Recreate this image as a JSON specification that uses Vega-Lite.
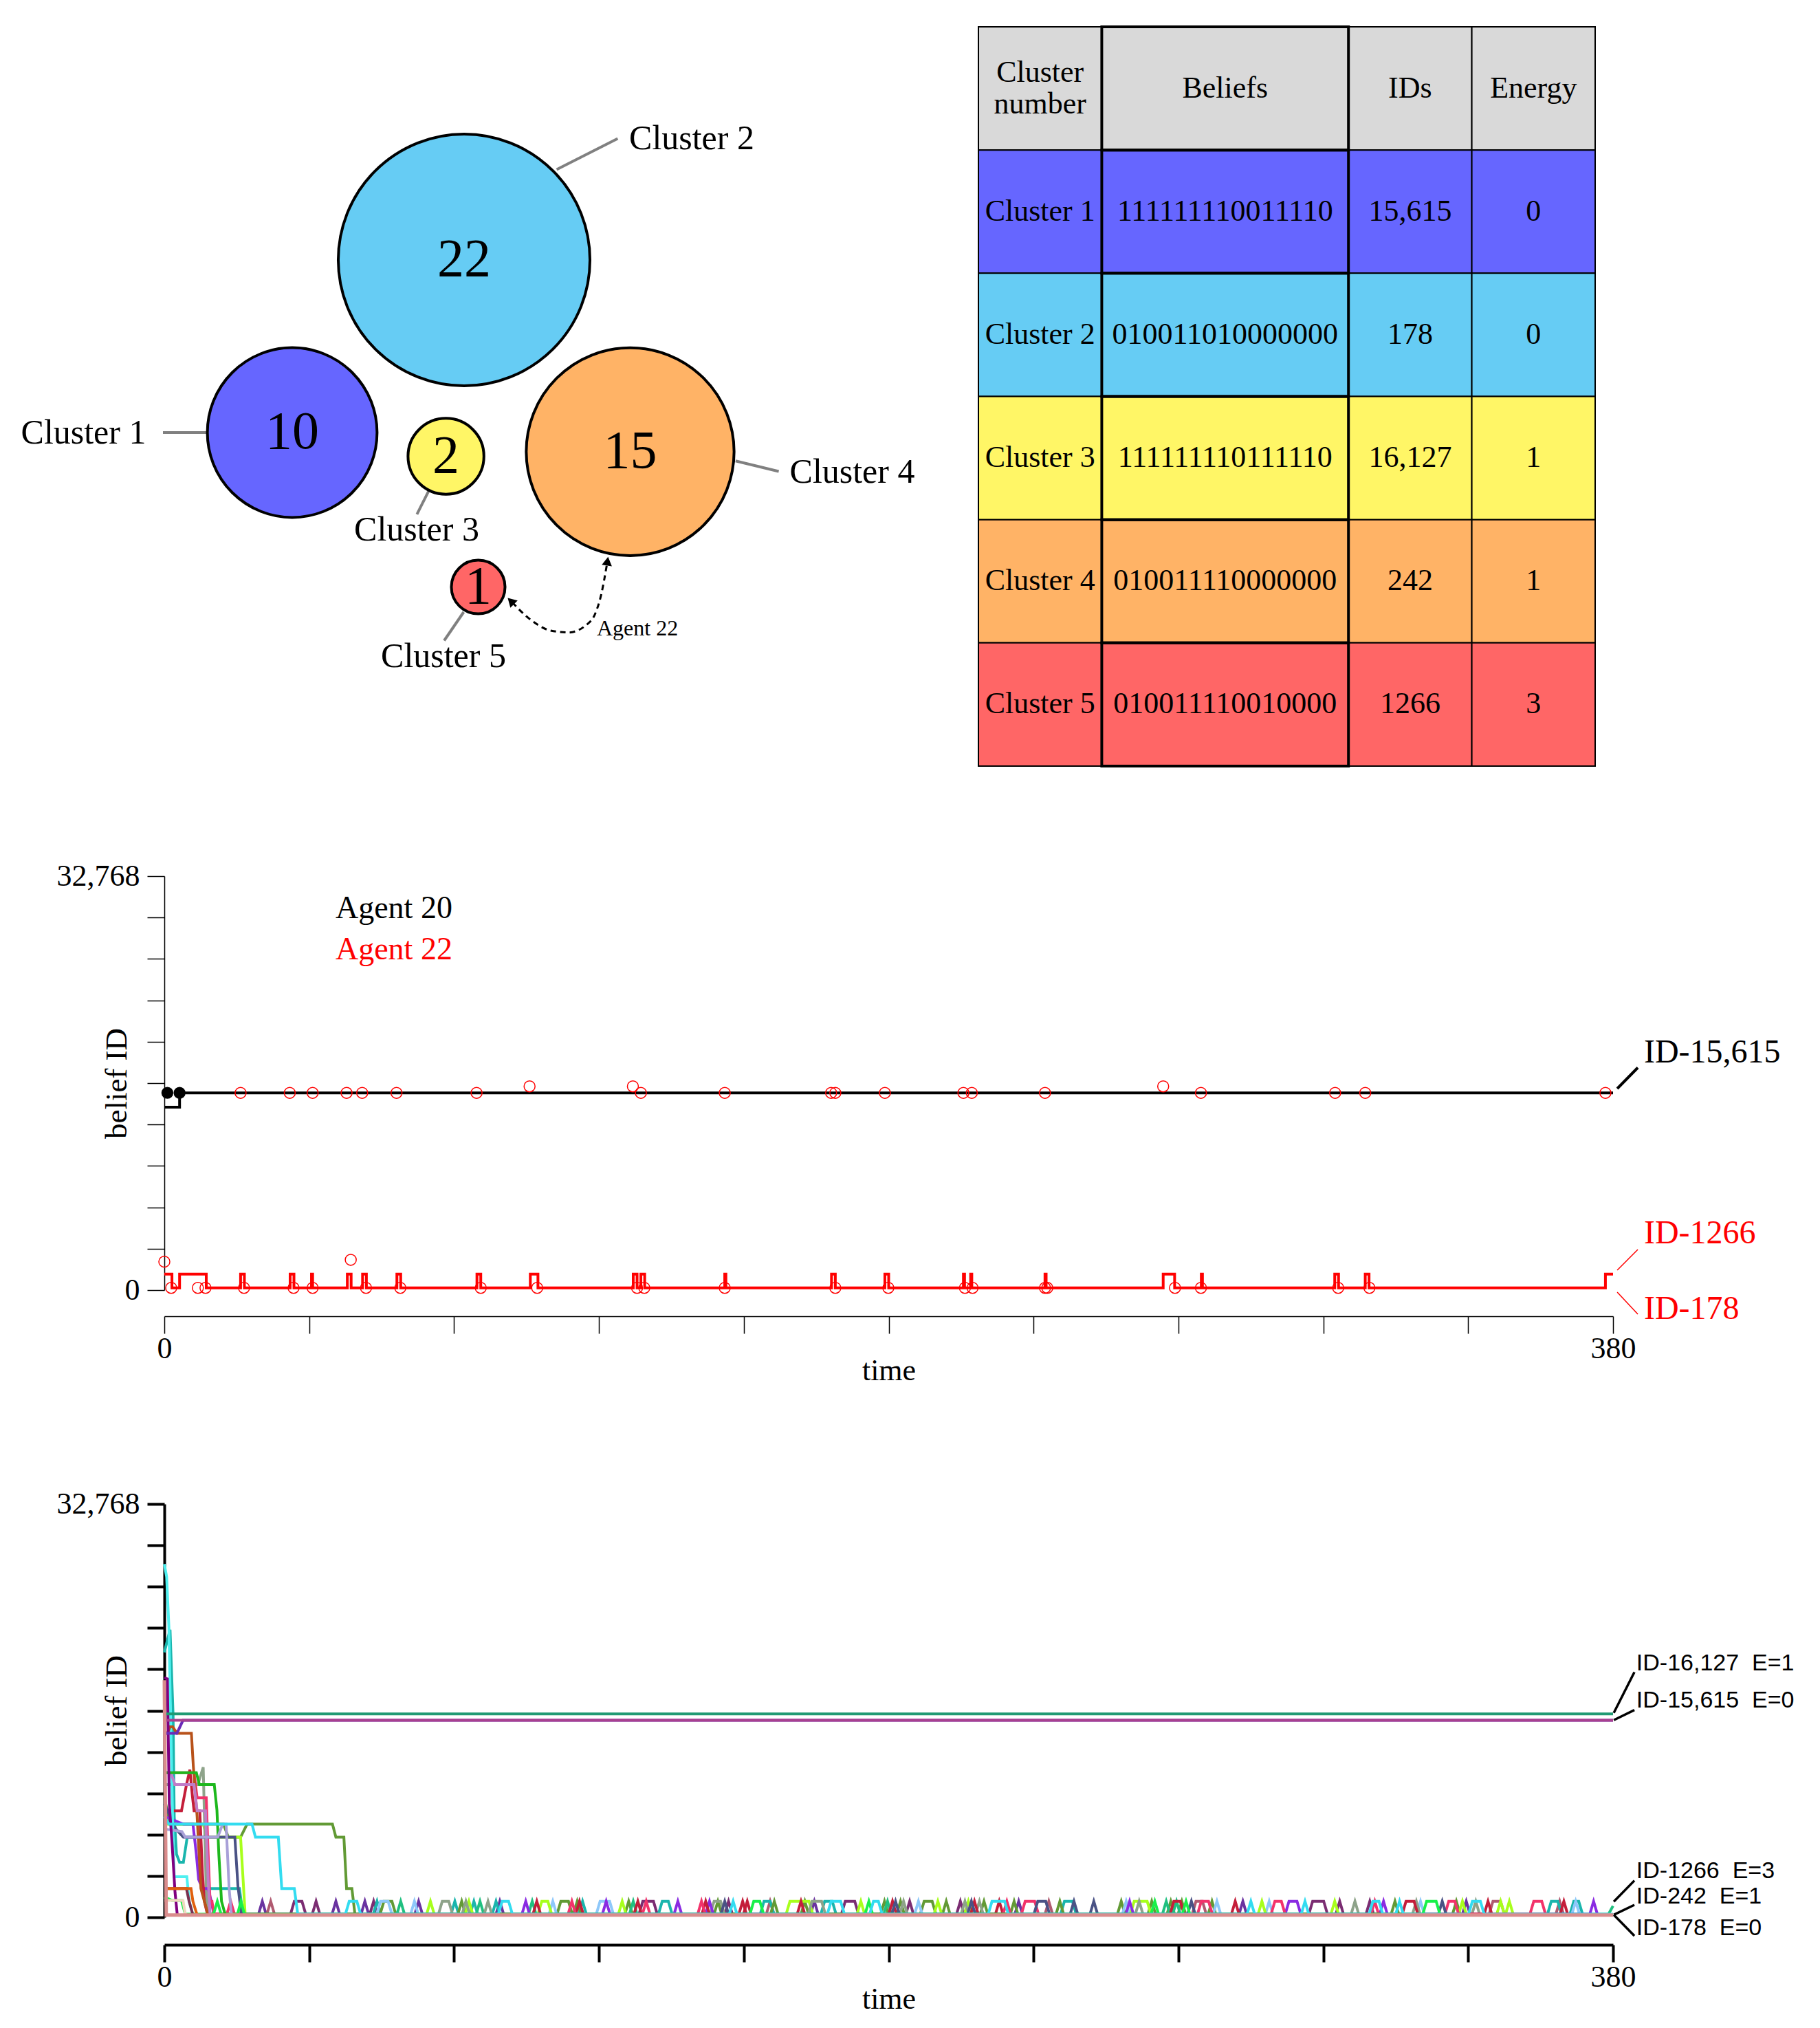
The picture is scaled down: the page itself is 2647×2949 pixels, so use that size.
{
"background":"white",
"padding":{"left":30,"top":37,"right":10,"bottom":10},
"bounds":"flush",
"spacing":160,
"resolve":{"scale":{"color":"independent","fill":"independent","size":"independent"}},
"config":{"view":{"stroke":null},"axis":{"grid":false,"domainColor":"black","tickColor":"black","labelColor":"black","titleColor":"black"}},
"datasets":{
"bub":[
{"cluster":"Cluster 1","n":10,"x":186,"y":590,"lx":-117.5,"ly":590.7,"ax":-2,"ay":590,"bx":61,"by":590},
{"cluster":"Cluster 2","n":22,"x":436,"y":339,"lx":767,"ly":162.5,"ax":570.6,"ay":207.5,"bx":659.4,"by":162.5},
{"cluster":"Cluster 3","n":2,"x":409.6,"y":624.5,"lx":367,"ly":731.6,"ax":384.6,"ay":674.7,"bx":367.4,"by":708.8},
{"cluster":"Cluster 4","n":15,"x":677.5,"y":617.8,"lx":1000.5,"ly":647.6,"ax":830.8,"ay":631.3,"bx":893.6,"by":646.5},
{"cluster":"Cluster 5","n":1,"x":456.5,"y":814.6,"lx":406,"ly":916,"ax":435.4,"ay":851,"bx":407,"by":892.5}],
"arr":[{"x":506,"y":837},{"x":532,"y":861.6},{"x":562,"y":878},{"x":588,"y":880.7},{"x":613.7,"y":869.8},{"x":626.6,"y":853.5},{"x":635.2,"y":826.4},{"x":643.9,"y":780.4}],
"tab":[
{"row":"header","c0":0,"c1":1,"xm":0.5,"txt":"Cluster\nnumber"},{"row":"header","c0":1,"c1":3,"xm":2,"txt":"Beliefs"},{"row":"header","c0":3,"c1":4,"xm":3.5,"txt":"IDs"},{"row":"header","c0":4,"c1":5,"xm":4.5,"txt":"Energy"},
{"row":"Cluster 1","c0":0,"c1":1,"xm":0.5,"txt":"Cluster 1"},{"row":"Cluster 1","c0":1,"c1":3,"xm":2,"txt":"111111110011110"},{"row":"Cluster 1","c0":3,"c1":4,"xm":3.5,"txt":"15,615"},{"row":"Cluster 1","c0":4,"c1":5,"xm":4.5,"txt":"0"},
{"row":"Cluster 2","c0":0,"c1":1,"xm":0.5,"txt":"Cluster 2"},{"row":"Cluster 2","c0":1,"c1":3,"xm":2,"txt":"010011010000000"},{"row":"Cluster 2","c0":3,"c1":4,"xm":3.5,"txt":"178"},{"row":"Cluster 2","c0":4,"c1":5,"xm":4.5,"txt":"0"},
{"row":"Cluster 3","c0":0,"c1":1,"xm":0.5,"txt":"Cluster 3"},{"row":"Cluster 3","c0":1,"c1":3,"xm":2,"txt":"111111110111110"},{"row":"Cluster 3","c0":3,"c1":4,"xm":3.5,"txt":"16,127"},{"row":"Cluster 3","c0":4,"c1":5,"xm":4.5,"txt":"1"},
{"row":"Cluster 4","c0":0,"c1":1,"xm":0.5,"txt":"Cluster 4"},{"row":"Cluster 4","c0":1,"c1":3,"xm":2,"txt":"010011110000000"},{"row":"Cluster 4","c0":3,"c1":4,"xm":3.5,"txt":"242"},{"row":"Cluster 4","c0":4,"c1":5,"xm":4.5,"txt":"1"},
{"row":"Cluster 5","c0":0,"c1":1,"xm":0.5,"txt":"Cluster 5"},{"row":"Cluster 5","c0":1,"c1":3,"xm":2,"txt":"010011110010000"},{"row":"Cluster 5","c0":3,"c1":4,"xm":3.5,"txt":"1266"},{"row":"Cluster 5","c0":4,"c1":5,"xm":4.5,"txt":"3"}],
"mid":[
{"agent":"Agent 20","t":0,"v":14480},{"agent":"Agent 20","t":4,"v":15615},{"agent":"Agent 20","t":380,"v":15615},
{"agent":"Agent 22","t":0,"v":1266},{"agent":"Agent 22","t":2,"v":178},{"agent":"Agent 22","t":4,"v":1266},{"agent":"Agent 22","t":11,"v":178},{"agent":"Agent 22","t":20,"v":1266},{"agent":"Agent 22","t":21,"v":178},{"agent":"Agent 22","t":33,"v":1266},{"agent":"Agent 22","t":34,"v":178},{"agent":"Agent 22","t":38.6,"v":1266},{"agent":"Agent 22","t":38.9,"v":178},{"agent":"Agent 22","t":48,"v":1266},{"agent":"Agent 22","t":49,"v":178},{"agent":"Agent 22","t":52,"v":1266},{"agent":"Agent 22","t":53,"v":178},{"agent":"Agent 22","t":61,"v":1266},{"agent":"Agent 22","t":62,"v":178},{"agent":"Agent 22","t":82,"v":1266},{"agent":"Agent 22","t":83,"v":178},{"agent":"Agent 22","t":96,"v":1266},{"agent":"Agent 22","t":98,"v":178},{"agent":"Agent 22","t":123,"v":1266},{"agent":"Agent 22","t":124,"v":178},{"agent":"Agent 22","t":125,"v":1266},{"agent":"Agent 22","t":126,"v":178},{"agent":"Agent 22","t":147,"v":1266},{"agent":"Agent 22","t":147.3,"v":178},{"agent":"Agent 22","t":175,"v":1266},{"agent":"Agent 22","t":176,"v":178},{"agent":"Agent 22","t":189,"v":1266},{"agent":"Agent 22","t":190,"v":178},{"agent":"Agent 22","t":209.6,"v":1266},{"agent":"Agent 22","t":209.9,"v":178},{"agent":"Agent 22","t":211.5,"v":1266},{"agent":"Agent 22","t":211.8,"v":178},{"agent":"Agent 22","t":231,"v":1266},{"agent":"Agent 22","t":231.3,"v":178},{"agent":"Agent 22","t":262,"v":1266},{"agent":"Agent 22","t":265,"v":178},{"agent":"Agent 22","t":272,"v":1266},{"agent":"Agent 22","t":272.3,"v":178},{"agent":"Agent 22","t":307,"v":1266},{"agent":"Agent 22","t":308,"v":178},{"agent":"Agent 22","t":315,"v":1266},{"agent":"Agent 22","t":316,"v":178},{"agent":"Agent 22","t":378,"v":1266},{"agent":"Agent 22","t":380,"v":1266}],
"midc":[
{"t":20,"v":15615},{"t":32.9,"v":15615},{"t":38.9,"v":15615},{"t":47.8,"v":15615},{"t":51.9,"v":15615},{"t":60.9,"v":15615},{"t":81.9,"v":15615},{"t":125,"v":15615},{"t":147,"v":15615},{"t":174.9,"v":15615},{"t":176,"v":15615},{"t":189,"v":15615},{"t":209.6,"v":15615},{"t":211.8,"v":15615},{"t":231,"v":15615},{"t":271.9,"v":15615},{"t":307.1,"v":15615},{"t":315,"v":15615},{"t":378,"v":15615},
{"t":95.8,"v":16127},{"t":122.9,"v":16127},{"t":262,"v":16127},
{"t":1.8,"v":178},{"t":8.8,"v":178},{"t":10.8,"v":178},{"t":20.9,"v":178},{"t":33.9,"v":178},{"t":38.9,"v":178},{"t":52.9,"v":178},{"t":61.9,"v":178},{"t":83,"v":178},{"t":97.8,"v":178},{"t":124,"v":178},{"t":125.9,"v":178},{"t":147,"v":178},{"t":176,"v":178},{"t":189.9,"v":178},{"t":210,"v":178},{"t":212,"v":178},{"t":231,"v":178},{"t":231.6,"v":178},{"t":265.1,"v":178},{"t":271.9,"v":178},{"t":307.9,"v":178},{"t":316.1,"v":178},
{"t":0,"v":2250},{"t":48.9,"v":2400}],
"midd":[{"t":0.8,"v":15615},{"t":4,"v":15615}],
"midleg":[{"agent":"Agent 20","t":44.9,"v":30210},{"agent":"Agent 22","t":44.9,"v":26971}],
"midlab":[{"agent":"Agent 20","t":388.1,"v":18779,"txt":"ID-15,615"},{"agent":"Agent 22","t":388.1,"v":4463,"txt":"ID-1266"},{"agent":"Agent 22","t":388.1,"v":-1497,"txt":"ID-178"}],
"midlead":[{"agent":"Agent 20","t":381.1,"v":15948,"t2":386.5,"v2":17609},{"agent":"Agent 22","t":381.1,"v":1578,"t2":386.5,"v2":3211},{"agent":"Agent 22","t":381.1,"v":-163,"t2":386.5,"v2":-1905}],
"botlab":[{"t":386.1,"v":20118,"txt":"ID-16,127\u00a0 E=1"},{"t":386.1,"v":17175,"txt":"ID-15,615\u00a0 E=0"},{"t":386.1,"v":3680,"txt":"ID-1266\u00a0 E=3"},{"t":386.1,"v":1640,"txt":"ID-242\u00a0 E=1"},{"t":386.1,"v":-880,"txt":"ID-178\u00a0 E=0"}],
"botlead":[{"t":380.2,"v":16204,"t2":385.6,"v2":19437},{"t":380.2,"v":15637,"t2":385.6,"v2":16433},{"t":380.2,"v":1243,"t2":385.6,"v2":2911},{"t":380.2,"v":196,"t2":385.6,"v2":981},{"t":380.2,"v":196,"t2":385.6,"v2":-1472}],
"bot":[
{"a":"a01","t":24.7,"v":242},{"a":"a01","t":25.7,"v":1266},{"a":"a01","t":26.7,"v":242},{"a":"a01","t":44,"v":242},{"a":"a01","t":45,"v":1266},{"a":"a01","t":46,"v":242},{"a":"a01","t":51.6,"v":242},{"a":"a01","t":52.6,"v":1266},{"a":"a01","t":53.6,"v":242},{"a":"a01","t":65.7,"v":242},{"a":"a01","t":66.7,"v":1266},{"a":"a01","t":67.7,"v":242},{"a":"a01","t":87,"v":242},{"a":"a01","t":88,"v":1266},{"a":"a01","t":89,"v":242},{"a":"a01","t":169.5,"v":242},{"a":"a01","t":170.5,"v":1266},{"a":"a01","t":171.5,"v":242},{"a":"a01","t":223.1,"v":242},{"a":"a01","t":224.1,"v":1266},{"a":"a01","t":225.1,"v":242},{"a":"a01","t":281.9,"v":242},{"a":"a01","t":282.9,"v":1266},{"a":"a01","t":283.9,"v":242},{"a":"a01","t":340.5,"v":242},{"a":"a01","t":341.5,"v":1266},{"a":"a01","t":342.5,"v":242},
{"a":"a02","t":26.9,"v":242},{"a":"a02","t":27.9,"v":1266},{"a":"a02","t":28.9,"v":242},{"a":"a02","t":157.9,"v":242},{"a":"a02","t":158.9,"v":1266},{"a":"a02","t":159.9,"v":242},{"a":"a02","t":231,"v":242},{"a":"a02","t":232,"v":1266},{"a":"a02","t":233,"v":242},{"a":"a02","t":269.6,"v":242},{"a":"a02","t":270.6,"v":1266},{"a":"a02","t":272.3,"v":1266},{"a":"a02","t":273.3,"v":242},{"a":"a02","t":347.5,"v":242},{"a":"a02","t":348.5,"v":1266},{"a":"a02","t":350.5,"v":1266},{"a":"a02","t":351.5,"v":242},{"a":"a02","t":365,"v":242},{"a":"a02","t":366,"v":1266},{"a":"a02","t":367,"v":242},
{"a":"a03","t":33.1,"v":242},{"a":"a03","t":34.1,"v":1266},{"a":"a03","t":36.1,"v":1266},{"a":"a03","t":37.1,"v":242},{"a":"a03","t":38.8,"v":242},{"a":"a03","t":39.8,"v":1266},{"a":"a03","t":40.8,"v":242},{"a":"a03","t":53.9,"v":242},{"a":"a03","t":54.9,"v":1266},{"a":"a03","t":55.9,"v":242},{"a":"a03","t":124.5,"v":242},{"a":"a03","t":125.5,"v":1266},{"a":"a03","t":128.3,"v":1266},{"a":"a03","t":129.3,"v":242},{"a":"a03","t":147,"v":242},{"a":"a03","t":148,"v":1266},{"a":"a03","t":149,"v":242},{"a":"a03","t":177.6,"v":242},{"a":"a03","t":178.6,"v":1266},{"a":"a03","t":181.1,"v":1266},{"a":"a03","t":182.1,"v":242},{"a":"a03","t":194.5,"v":242},{"a":"a03","t":195.5,"v":1266},{"a":"a03","t":196.5,"v":242},{"a":"a03","t":207.8,"v":242},{"a":"a03","t":208.8,"v":1266},{"a":"a03","t":209.8,"v":242},{"a":"a03","t":300.2,"v":242},{"a":"a03","t":301.2,"v":1266},{"a":"a03","t":304.1,"v":1266},{"a":"a03","t":305.1,"v":242},{"a":"a03","t":307.3,"v":242},{"a":"a03","t":308.3,"v":1266},{"a":"a03","t":309.3,"v":242},{"a":"a03","t":315.2,"v":242},{"a":"a03","t":316.2,"v":1266},{"a":"a03","t":317.2,"v":242},
{"a":"a04","t":0,"v":21000},{"a":"a04","t":1.5,"v":22800},{"a":"a04","t":2.3,"v":16000},{"a":"a04","t":2.6,"v":8000},{"a":"a04","t":3.2,"v":5000},{"a":"a04","t":4,"v":4363},{"a":"a04","t":5,"v":4363},{"a":"a04","t":6,"v":6346},{"a":"a04","t":9.3,"v":6346},{"a":"a04","t":10,"v":2278},{"a":"a04","t":19.7,"v":2278},{"a":"a04","t":20.6,"v":242},{"a":"a04","t":54.8,"v":242},{"a":"a04","t":55.8,"v":1266},{"a":"a04","t":56.8,"v":242},{"a":"a04","t":75.2,"v":242},{"a":"a04","t":76.2,"v":1266},{"a":"a04","t":77.2,"v":242},{"a":"a04","t":80.2,"v":242},{"a":"a04","t":81.2,"v":1266},{"a":"a04","t":82.2,"v":242},{"a":"a04","t":86,"v":242},{"a":"a04","t":87,"v":1266},{"a":"a04","t":88,"v":242},{"a":"a04","t":108.7,"v":242},{"a":"a04","t":109.7,"v":1266},{"a":"a04","t":110.7,"v":242},{"a":"a04","t":129.6,"v":242},{"a":"a04","t":130.6,"v":1266},{"a":"a04","t":132.2,"v":1266},{"a":"a04","t":133.2,"v":242},{"a":"a04","t":156.3,"v":242},{"a":"a04","t":157.3,"v":1266},{"a":"a04","t":158.9,"v":1266},{"a":"a04","t":159.9,"v":242},{"a":"a04","t":172.2,"v":242},{"a":"a04","t":173.2,"v":1266},{"a":"a04","t":175.2,"v":1266},{"a":"a04","t":176.2,"v":242},{"a":"a04","t":235.1,"v":242},{"a":"a04","t":236.1,"v":1266},{"a":"a04","t":238.2,"v":1266},{"a":"a04","t":239.2,"v":242},{"a":"a04","t":362.8,"v":242},{"a":"a04","t":363.8,"v":1266},{"a":"a04","t":365.5,"v":1266},{"a":"a04","t":366.5,"v":242},{"a":"a04","t":368.7,"v":242},{"a":"a04","t":369.7,"v":1266},{"a":"a04","t":371,"v":1266},{"a":"a04","t":372,"v":242},
{"a":"a05","t":0,"v":9500},{"a":"a05","t":1.5,"v":7388},{"a":"a05","t":15.5,"v":7388},{"a":"a05","t":16.8,"v":6346},{"a":"a05","t":20,"v":6346},{"a":"a05","t":21.7,"v":7388},{"a":"a05","t":44.1,"v":7388},{"a":"a05","t":45,"v":6346},{"a":"a05","t":47.1,"v":6346},{"a":"a05","t":47.8,"v":2278},{"a":"a05","t":49.2,"v":2278},{"a":"a05","t":50,"v":242},{"a":"a05","t":56.6,"v":242},{"a":"a05","t":57.6,"v":1266},{"a":"a05","t":59.7,"v":1266},{"a":"a05","t":60.7,"v":242},{"a":"a05","t":77,"v":242},{"a":"a05","t":78,"v":1266},{"a":"a05","t":79,"v":242},{"a":"a05","t":103,"v":242},{"a":"a05","t":104,"v":1266},{"a":"a05","t":106,"v":1266},{"a":"a05","t":107,"v":242},{"a":"a05","t":107.3,"v":242},{"a":"a05","t":108.3,"v":1266},{"a":"a05","t":109.3,"v":242},{"a":"a05","t":120.8,"v":242},{"a":"a05","t":121.8,"v":1266},{"a":"a05","t":122.8,"v":242},{"a":"a05","t":144.2,"v":242},{"a":"a05","t":145.2,"v":1266},{"a":"a05","t":146.2,"v":242},{"a":"a05","t":159,"v":242},{"a":"a05","t":160,"v":1266},{"a":"a05","t":161,"v":242},{"a":"a05","t":167,"v":242},{"a":"a05","t":168,"v":1266},{"a":"a05","t":169,"v":242},{"a":"a05","t":187.9,"v":242},{"a":"a05","t":188.9,"v":1266},{"a":"a05","t":189.9,"v":242},{"a":"a05","t":192.1,"v":242},{"a":"a05","t":193.1,"v":1266},{"a":"a05","t":194.1,"v":242},{"a":"a05","t":198.3,"v":242},{"a":"a05","t":199.3,"v":1266},{"a":"a05","t":201.4,"v":1266},{"a":"a05","t":202.4,"v":242},{"a":"a05","t":204.1,"v":242},{"a":"a05","t":205.1,"v":1266},{"a":"a05","t":206.1,"v":242},{"a":"a05","t":214,"v":242},{"a":"a05","t":215,"v":1266},{"a":"a05","t":216,"v":242},{"a":"a05","t":221.9,"v":242},{"a":"a05","t":222.9,"v":1266},{"a":"a05","t":223.9,"v":242},{"a":"a05","t":233.9,"v":242},{"a":"a05","t":234.9,"v":1266},{"a":"a05","t":235.9,"v":242},{"a":"a05","t":250,"v":242},{"a":"a05","t":251,"v":1266},{"a":"a05","t":252,"v":242},{"a":"a05","t":258,"v":242},{"a":"a05","t":259,"v":1266},{"a":"a05","t":260,"v":242},{"a":"a05","t":263,"v":242},{"a":"a05","t":264,"v":1266},{"a":"a05","t":265,"v":242},{"a":"a05","t":265.9,"v":242},{"a":"a05","t":266.9,"v":1266},{"a":"a05","t":267.9,"v":242},{"a":"a05","t":273.8,"v":242},{"a":"a05","t":274.8,"v":1266},{"a":"a05","t":275.8,"v":242},{"a":"a05","t":321.8,"v":242},{"a":"a05","t":322.8,"v":1266},{"a":"a05","t":323.8,"v":242},{"a":"a05","t":337.9,"v":242},{"a":"a05","t":338.9,"v":1266},{"a":"a05","t":339.9,"v":242},
{"a":"a06","t":55.7,"v":242},{"a":"a06","t":56.7,"v":1266},{"a":"a06","t":58.7,"v":1266},{"a":"a06","t":59.7,"v":242},{"a":"a06","t":64.6,"v":242},{"a":"a06","t":65.6,"v":1266},{"a":"a06","t":66.6,"v":242},{"a":"a06","t":100.9,"v":242},{"a":"a06","t":101.9,"v":1266},{"a":"a06","t":102.9,"v":242},{"a":"a06","t":113.3,"v":242},{"a":"a06","t":114.3,"v":1266},{"a":"a06","t":116.8,"v":1266},{"a":"a06","t":117.8,"v":242},{"a":"a06","t":196.8,"v":242},{"a":"a06","t":197.8,"v":1266},{"a":"a06","t":198.8,"v":242},{"a":"a06","t":251.3,"v":242},{"a":"a06","t":252.3,"v":1266},{"a":"a06","t":253.3,"v":242},{"a":"a06","t":275.1,"v":242},{"a":"a06","t":276.1,"v":1266},{"a":"a06","t":277.1,"v":242},{"a":"a06","t":288.8,"v":242},{"a":"a06","t":289.8,"v":1266},{"a":"a06","t":290.8,"v":242},{"a":"a06","t":328.5,"v":242},{"a":"a06","t":329.5,"v":1266},{"a":"a06","t":330.5,"v":242},{"a":"a06","t":369.2,"v":242},{"a":"a06","t":370.2,"v":1266},{"a":"a06","t":371.2,"v":242},
{"a":"a07","t":61,"v":242},{"a":"a07","t":62,"v":1266},{"a":"a07","t":63,"v":242},{"a":"a07","t":81.8,"v":242},{"a":"a07","t":82.8,"v":1266},{"a":"a07","t":83.8,"v":242},{"a":"a07","t":95.5,"v":242},{"a":"a07","t":96.5,"v":1266},{"a":"a07","t":97.5,"v":242},{"a":"a07","t":122,"v":242},{"a":"a07","t":123,"v":1266},{"a":"a07","t":124,"v":242},{"a":"a07","t":188.7,"v":242},{"a":"a07","t":189.7,"v":1266},{"a":"a07","t":190.7,"v":242},{"a":"a07","t":261.8,"v":242},{"a":"a07","t":262.8,"v":1266},{"a":"a07","t":263.8,"v":242},{"a":"a07","t":264.5,"v":242},{"a":"a07","t":265.5,"v":1266},{"a":"a07","t":266.5,"v":242},{"a":"a07","t":378.8,"v":242},{"a":"a07","t":380,"v":900},
{"a":"a08","t":0,"v":7388},{"a":"a08","t":10.2,"v":7388},{"a":"a08","t":11.2,"v":6346},{"a":"a08","t":20,"v":6346},{"a":"a08","t":21.2,"v":242},{"a":"a08","t":68.8,"v":242},{"a":"a08","t":69.8,"v":1266},{"a":"a08","t":70.8,"v":242},{"a":"a08","t":78.9,"v":242},{"a":"a08","t":79.9,"v":1266},{"a":"a08","t":80.9,"v":242},{"a":"a08","t":98,"v":242},{"a":"a08","t":99,"v":1266},{"a":"a08","t":100.6,"v":1266},{"a":"a08","t":101.6,"v":242},{"a":"a08","t":119.1,"v":242},{"a":"a08","t":120.1,"v":1266},{"a":"a08","t":121.1,"v":242},{"a":"a08","t":163.1,"v":242},{"a":"a08","t":164.1,"v":1266},{"a":"a08","t":169.1,"v":1266},{"a":"a08","t":170.1,"v":242},{"a":"a08","t":181.7,"v":242},{"a":"a08","t":182.7,"v":1266},{"a":"a08","t":183.7,"v":242},{"a":"a08","t":201.9,"v":242},{"a":"a08","t":202.9,"v":1266},{"a":"a08","t":203.9,"v":242},{"a":"a08","t":209.9,"v":242},{"a":"a08","t":210.9,"v":1266},{"a":"a08","t":211.9,"v":242},{"a":"a08","t":253.4,"v":242},{"a":"a08","t":254.4,"v":1266},{"a":"a08","t":257.8,"v":1266},{"a":"a08","t":258.8,"v":242},{"a":"a08","t":286.9,"v":242},{"a":"a08","t":287.9,"v":1266},{"a":"a08","t":288.9,"v":242},{"a":"a08","t":306,"v":242},{"a":"a08","t":307,"v":1266},{"a":"a08","t":308,"v":242},{"a":"a08","t":339.5,"v":242},{"a":"a08","t":340.5,"v":1266},{"a":"a08","t":341.5,"v":242},{"a":"a08","t":349.5,"v":242},{"a":"a08","t":350.5,"v":1266},{"a":"a08","t":351.5,"v":242},{"a":"a08","t":351.8,"v":242},{"a":"a08","t":352.8,"v":1266},{"a":"a08","t":353.8,"v":242},
{"a":"a09","t":0,"v":10522},{"a":"a09","t":8.8,"v":10522},{"a":"a09","t":10.2,"v":11900},{"a":"a09","t":11,"v":2000},{"a":"a09","t":11.5,"v":242},{"a":"a09","t":71.9,"v":242},{"a":"a09","t":72.9,"v":1266},{"a":"a09","t":74.6,"v":1266},{"a":"a09","t":75.6,"v":242},{"a":"a09","t":78.1,"v":242},{"a":"a09","t":79.1,"v":1266},{"a":"a09","t":80.1,"v":242},{"a":"a09","t":83.9,"v":242},{"a":"a09","t":84.9,"v":1266},{"a":"a09","t":85.9,"v":242},{"a":"a09","t":143.2,"v":242},{"a":"a09","t":144.2,"v":1266},{"a":"a09","t":145.9,"v":1266},{"a":"a09","t":146.9,"v":242},{"a":"a09","t":168.9,"v":242},{"a":"a09","t":169.9,"v":1266},{"a":"a09","t":172.4,"v":1266},{"a":"a09","t":173.4,"v":242},{"a":"a09","t":192.9,"v":242},{"a":"a09","t":193.9,"v":1266},{"a":"a09","t":194.9,"v":242},{"a":"a09","t":209,"v":242},{"a":"a09","t":210,"v":1266},{"a":"a09","t":211,"v":242},{"a":"a09","t":212.8,"v":242},{"a":"a09","t":213.8,"v":1266},{"a":"a09","t":214.8,"v":242},{"a":"a09","t":254.7,"v":242},{"a":"a09","t":255.7,"v":1266},{"a":"a09","t":256.7,"v":242},{"a":"a09","t":311.3,"v":242},{"a":"a09","t":312.3,"v":1266},{"a":"a09","t":313.3,"v":242},{"a":"a09","t":327.4,"v":242},{"a":"a09","t":328.4,"v":1266},{"a":"a09","t":329.4,"v":242},{"a":"a09","t":343,"v":242},{"a":"a09","t":344,"v":1266},{"a":"a09","t":345,"v":242},
{"a":"a10","t":0,"v":8000},{"a":"a10","t":5,"v":7388},{"a":"a10","t":7.5,"v":7388},{"a":"a10","t":8.4,"v":5000},{"a":"a10","t":9,"v":3000},{"a":"a10","t":10,"v":2278},{"a":"a10","t":11.5,"v":2278},{"a":"a10","t":12.3,"v":1266},{"a":"a10","t":13,"v":242},{"a":"a10","t":93.8,"v":242},{"a":"a10","t":94.8,"v":1266},{"a":"a10","t":95.8,"v":242},{"a":"a10","t":114.9,"v":242},{"a":"a10","t":115.9,"v":1266},{"a":"a10","t":116.9,"v":242},{"a":"a10","t":133.7,"v":242},{"a":"a10","t":134.7,"v":1266},{"a":"a10","t":135.7,"v":242},{"a":"a10","t":142,"v":242},{"a":"a10","t":143,"v":1266},{"a":"a10","t":144,"v":242},{"a":"a10","t":252.2,"v":242},{"a":"a10","t":253.2,"v":1266},{"a":"a10","t":254.2,"v":242},{"a":"a10","t":294,"v":242},{"a":"a10","t":295,"v":1266},{"a":"a10","t":297.1,"v":1266},{"a":"a10","t":298.1,"v":242},{"a":"a10","t":318.8,"v":242},{"a":"a10","t":319.8,"v":1266},{"a":"a10","t":320.8,"v":242},{"a":"a10","t":373.9,"v":242},{"a":"a10","t":374.9,"v":1266},{"a":"a10","t":375.9,"v":242},
{"a":"a11","t":0,"v":8433},{"a":"a11","t":4.5,"v":8433},{"a":"a11","t":5.8,"v":10500},{"a":"a11","t":6.7,"v":11700},{"a":"a11","t":7.4,"v":9500},{"a":"a11","t":7.8,"v":8433},{"a":"a11","t":9.3,"v":8433},{"a":"a11","t":10,"v":3500},{"a":"a11","t":10.5,"v":1266},{"a":"a11","t":11.3,"v":242},{"a":"a11","t":96.7,"v":242},{"a":"a11","t":97.7,"v":1266},{"a":"a11","t":98.7,"v":242},{"a":"a11","t":107.9,"v":242},{"a":"a11","t":108.9,"v":1266},{"a":"a11","t":109.9,"v":242},{"a":"a11","t":123.2,"v":242},{"a":"a11","t":124.2,"v":1266},{"a":"a11","t":125.2,"v":242},{"a":"a11","t":141,"v":242},{"a":"a11","t":142,"v":1266},{"a":"a11","t":143,"v":242},{"a":"a11","t":150.7,"v":242},{"a":"a11","t":151.7,"v":1266},{"a":"a11","t":152.7,"v":242},{"a":"a11","t":166,"v":242},{"a":"a11","t":167,"v":1266},{"a":"a11","t":168,"v":242},{"a":"a11","t":190,"v":242},{"a":"a11","t":191,"v":1266},{"a":"a11","t":192,"v":242},{"a":"a11","t":211.5,"v":242},{"a":"a11","t":212.5,"v":1266},{"a":"a11","t":213.5,"v":242},{"a":"a11","t":218,"v":242},{"a":"a11","t":219,"v":1266},{"a":"a11","t":220,"v":242},{"a":"a11","t":263.8,"v":242},{"a":"a11","t":264.8,"v":1266},{"a":"a11","t":266.5,"v":1266},{"a":"a11","t":267.5,"v":242},{"a":"a11","t":279.9,"v":242},{"a":"a11","t":280.9,"v":1266},{"a":"a11","t":281.9,"v":242},{"a":"a11","t":324.7,"v":242},{"a":"a11","t":325.7,"v":1266},{"a":"a11","t":327.8,"v":1266},{"a":"a11","t":328.8,"v":242},{"a":"a11","t":346.2,"v":242},{"a":"a11","t":347.2,"v":1266},{"a":"a11","t":348.2,"v":242},{"a":"a11","t":366.1,"v":242},{"a":"a11","t":367.1,"v":1266},{"a":"a11","t":368.1,"v":242},
{"a":"a12","t":151.9,"v":242},{"a":"a12","t":152.9,"v":1266},{"a":"a12","t":153.9,"v":242},
{"a":"a13","t":0,"v":11459},{"a":"a13","t":7.8,"v":11459},{"a":"a13","t":8.6,"v":9476},{"a":"a13","t":11,"v":9476},{"a":"a13","t":11.5,"v":5000},{"a":"a13","t":12,"v":1266},{"a":"a13","t":12.5,"v":1266},{"a":"a13","t":13,"v":242},{"a":"a13","t":16.4,"v":242},{"a":"a13","t":17.4,"v":1266},{"a":"a13","t":18.4,"v":242},{"a":"a13","t":105.9,"v":242},{"a":"a13","t":106.9,"v":1266},{"a":"a13","t":107.9,"v":242},{"a":"a13","t":125.4,"v":242},{"a":"a13","t":126.4,"v":1266},{"a":"a13","t":127.4,"v":242},{"a":"a13","t":139.9,"v":242},{"a":"a13","t":140.9,"v":1266},{"a":"a13","t":141.9,"v":242},{"a":"a13","t":220,"v":242},{"a":"a13","t":221,"v":1266},{"a":"a13","t":222,"v":242},{"a":"a13","t":224.8,"v":242},{"a":"a13","t":225.8,"v":1266},{"a":"a13","t":228.3,"v":1266},{"a":"a13","t":229.3,"v":242},{"a":"a13","t":271,"v":242},{"a":"a13","t":272,"v":1266},{"a":"a13","t":273.9,"v":1266},{"a":"a13","t":274.9,"v":242},{"a":"a13","t":290.3,"v":242},{"a":"a13","t":291.3,"v":1266},{"a":"a13","t":293,"v":1266},{"a":"a13","t":294,"v":242},{"a":"a13","t":316.5,"v":242},{"a":"a13","t":317.5,"v":1266},{"a":"a13","t":318.5,"v":242},{"a":"a13","t":335.9,"v":242},{"a":"a13","t":336.9,"v":1266},{"a":"a13","t":338.5,"v":1266},{"a":"a13","t":339.5,"v":242},{"a":"a13","t":358.2,"v":242},{"a":"a13","t":359.2,"v":1266},{"a":"a13","t":361.3,"v":1266},{"a":"a13","t":362.3,"v":242},
{"a":"a14","t":0,"v":9000},{"a":"a14","t":3,"v":7000},{"a":"a14","t":5,"v":6346},{"a":"a14","t":18.5,"v":6346},{"a":"a14","t":19.3,"v":2500},{"a":"a14","t":20.2,"v":242},{"a":"a14","t":146,"v":242},{"a":"a14","t":147,"v":1266},{"a":"a14","t":148,"v":242},{"a":"a14","t":190.8,"v":242},{"a":"a14","t":191.8,"v":1266},{"a":"a14","t":192.8,"v":242},{"a":"a14","t":210.7,"v":242},{"a":"a14","t":211.7,"v":1266},{"a":"a14","t":212.7,"v":242},{"a":"a14","t":228.1,"v":242},{"a":"a14","t":229.1,"v":1266},{"a":"a14","t":231.2,"v":1266},{"a":"a14","t":232.2,"v":242},{"a":"a14","t":237.6,"v":242},{"a":"a14","t":238.6,"v":1266},{"a":"a14","t":239.6,"v":242},{"a":"a14","t":242.8,"v":242},{"a":"a14","t":243.8,"v":1266},{"a":"a14","t":244.8,"v":242},{"a":"a14","t":268.4,"v":242},{"a":"a14","t":269.4,"v":1266},{"a":"a14","t":270.4,"v":242},{"a":"a14","t":334.2,"v":242},{"a":"a14","t":335.2,"v":1266},{"a":"a14","t":336.2,"v":242},
{"a":"a15","t":0,"v":1600},{"a":"a15","t":2,"v":1340},{"a":"a15","t":4.5,"v":1340},{"a":"a15","t":5.5,"v":242},{"a":"a15","t":12.9,"v":242},{"a":"a15","t":13.9,"v":1266},{"a":"a15","t":14.9,"v":242},{"a":"a15","t":19.2,"v":242},{"a":"a15","t":20.1,"v":1266},{"a":"a15","t":21,"v":242},{"a":"a15","t":153.6,"v":242},{"a":"a15","t":154.6,"v":1266},{"a":"a15","t":156.2,"v":1266},{"a":"a15","t":157.2,"v":242},{"a":"a15","t":183.8,"v":242},{"a":"a15","t":184.8,"v":1266},{"a":"a15","t":185.8,"v":242},{"a":"a15","t":258.8,"v":242},{"a":"a15","t":259.8,"v":1266},{"a":"a15","t":260.8,"v":242},{"a":"a15","t":267,"v":242},{"a":"a15","t":268,"v":1266},{"a":"a15","t":269,"v":242},{"a":"a15","t":330.1,"v":242},{"a":"a15","t":331.1,"v":1266},{"a":"a15","t":333.6,"v":1266},{"a":"a15","t":334.6,"v":242},
{"a":"b01","t":0,"v":28000},{"a":"b01","t":0.6,"v":27000},{"a":"b01","t":1.2,"v":23000},{"a":"b01","t":1.7,"v":15000},{"a":"b01","t":2.3,"v":6000},{"a":"b01","t":2.6,"v":3217},{"a":"b01","t":5.9,"v":3217},{"a":"b01","t":6.5,"v":1300},{"a":"b01","t":7.5,"v":178},
{"a":"b03","t":0,"v":14589},{"a":"b03","t":0.8,"v":14589},{"a":"b03","t":1.5,"v":15100},{"a":"b03","t":2.2,"v":15100},{"a":"b03","t":3.3,"v":14589},{"a":"b03","t":7.1,"v":14589},{"a":"b03","t":7.6,"v":12000},{"a":"b03","t":8.1,"v":10000},{"a":"b03","t":8.6,"v":8000},{"a":"b03","t":9.6,"v":2278},{"a":"b03","t":10.5,"v":1266},{"a":"b03","t":11.5,"v":178},
{"a":"b06","t":0,"v":11459},{"a":"b06","t":1.7,"v":11459},{"a":"b06","t":2.8,"v":10522},{"a":"b06","t":7.8,"v":10522},{"a":"b06","t":8.6,"v":8433},{"a":"b06","t":10.8,"v":8433},{"a":"b06","t":11.5,"v":3000},{"a":"b06","t":12,"v":178},
{"a":"b08","t":0,"v":11459},{"a":"b08","t":8.4,"v":11459},{"a":"b08","t":9.2,"v":10522},{"a":"b08","t":13.1,"v":10522},{"a":"b08","t":13.8,"v":8500},{"a":"b08","t":14.3,"v":5000},{"a":"b08","t":15,"v":1266},{"a":"b08","t":16,"v":178},
{"a":"b12","t":0,"v":7000},{"a":"b12","t":4.6,"v":6800},{"a":"b12","t":5.5,"v":6346},{"a":"b12","t":14,"v":6346},{"a":"b12","t":15.3,"v":7388},{"a":"b12","t":16.2,"v":7388},{"a":"b12","t":17,"v":2278},{"a":"b12","t":17.6,"v":178},
{"a":"b14","t":0,"v":19000},{"a":"b14","t":0.8,"v":18900},{"a":"b14","t":1.3,"v":9000},{"a":"b14","t":2,"v":6000},{"a":"b14","t":2.8,"v":2000},{"a":"b14","t":3.4,"v":178},
{"a":"b16","t":0,"v":14589},{"a":"b16","t":3.3,"v":14589},{"a":"b16","t":4.9,"v":15615},{"a":"b16","t":380,"v":15615},
{"a":"b17","t":0,"v":2278},{"a":"b17","t":5.8,"v":2278},{"a":"b17","t":6.5,"v":1266},{"a":"b17","t":7.5,"v":178},
{"a":"b18","t":0,"v":1340},{"a":"b18","t":4.9,"v":1340},{"a":"b18","t":5.5,"v":242},{"a":"b18","t":6,"v":178},
{"a":"b19","t":0,"v":2278},{"a":"b19","t":7,"v":2278},{"a":"b19","t":7.5,"v":1266},{"a":"b19","t":8.6,"v":178},
{"a":"a16","t":0,"v":8000},{"a":"a16","t":1.2,"v":7388},{"a":"a16","t":23,"v":7388},{"a":"a16","t":23.9,"v":6346},{"a":"a16","t":29.9,"v":6346},{"a":"a16","t":30.8,"v":2278},{"a":"a16","t":34.1,"v":2278},{"a":"a16","t":35,"v":242},{"a":"a16","t":47.5,"v":242},{"a":"a16","t":48.5,"v":1266},{"a":"a16","t":50.5,"v":1266},{"a":"a16","t":51.5,"v":242},{"a":"a16","t":87.6,"v":242},{"a":"a16","t":88.6,"v":1266},{"a":"a16","t":90.3,"v":1266},{"a":"a16","t":91.3,"v":242},{"a":"a16","t":148.2,"v":242},{"a":"a16","t":149.2,"v":1266},{"a":"a16","t":150.2,"v":242},{"a":"a16","t":173.9,"v":242},{"a":"a16","t":174.9,"v":1266},{"a":"a16","t":177.4,"v":1266},{"a":"a16","t":178.4,"v":242},{"a":"a16","t":185,"v":242},{"a":"a16","t":186,"v":1266},{"a":"a16","t":187.3,"v":1266},{"a":"a16","t":188.3,"v":242},{"a":"a16","t":216.1,"v":242},{"a":"a16","t":217.1,"v":1266},{"a":"a16","t":220.4,"v":1266},{"a":"a16","t":221.4,"v":242},{"a":"a16","t":284,"v":242},{"a":"a16","t":285,"v":1266},{"a":"a16","t":286,"v":242},{"a":"a16","t":298.2,"v":242},{"a":"a16","t":299.2,"v":1266},{"a":"a16","t":300.2,"v":242},{"a":"a16","t":316,"v":242},{"a":"a16","t":317,"v":1266},{"a":"a16","t":318.6,"v":1266},{"a":"a16","t":319.6,"v":242},{"a":"a16","t":323,"v":242},{"a":"a16","t":324,"v":1266},{"a":"a16","t":325,"v":242},{"a":"a16","t":342.1,"v":242},{"a":"a16","t":343.1,"v":1266},{"a":"a16","t":345.2,"v":1266},{"a":"a16","t":346.2,"v":242},{"a":"a16","t":380,"v":242},
{"a":"tg","t":0,"v":16127},{"a":"tg","t":380,"v":16127},
{"a":"mg","t":0,"v":15615},{"a":"mg","t":380,"v":15615},
{"a":"sal","t":0,"v":18800},{"a":"sal","t":0.5,"v":178},{"a":"sal","t":380,"v":178}]
},
"vconcat":[
{"width":2081,"height":1075,
"resolve":{"scale":{"x":"independent","y":"independent","color":"independent","fill":"independent","size":"independent"}},
"layer":[
{"data":{"name":"bub"},"mark":{"type":"rule","color":"#808080","strokeWidth":4},
"encoding":{"x":{"field":"ax","type":"quantitative","scale":{"domain":[0,2081],"nice":false,"zero":false},"axis":null},"y":{"field":"ay","type":"quantitative","scale":{"domain":[0,1075],"nice":false,"zero":false,"reverse":true},"axis":null},"x2":{"field":"bx"},"y2":{"field":"by"}}},
{"data":{"name":"arr"},"mark":{"type":"line","color":"black","strokeWidth":3,"strokeDash":[8,6],"interpolate":"monotone"},
"encoding":{"x":{"field":"x","type":"quantitative","scale":{"domain":[0,2081],"nice":false,"zero":false},"axis":null},"y":{"field":"y","type":"quantitative","scale":{"domain":[0,1075],"nice":false,"zero":false,"reverse":true},"axis":null}}},
{"data":{"values":[{"x":504,"y":835}]},"mark":{"type":"point","shape":"triangle-up","filled":true,"color":"black","opacity":1,"size":220,"angle":-45},
"encoding":{"x":{"field":"x","type":"quantitative","scale":{"domain":[0,2081],"nice":false,"zero":false},"axis":null},"y":{"field":"y","type":"quantitative","scale":{"domain":[0,1075],"nice":false,"zero":false,"reverse":true},"axis":null}}},
{"data":{"values":[{"x":644.5,"y":777}]},"mark":{"type":"point","shape":"triangle-up","filled":true,"color":"black","opacity":1,"size":220,"angle":8},
"encoding":{"x":{"field":"x","type":"quantitative","scale":{"domain":[0,2081],"nice":false,"zero":false},"axis":null},"y":{"field":"y","type":"quantitative","scale":{"domain":[0,1075],"nice":false,"zero":false,"reverse":true},"axis":null}}},
{"data":{"values":[{"x":629,"y":875,"txt":"Agent 22"}]},"mark":{"type":"text","font":"Liberation Serif","fontSize":32,"align":"left","baseline":"middle","color":"black"},
"encoding":{"x":{"field":"x","type":"quantitative","scale":{"domain":[0,2081],"nice":false,"zero":false},"axis":null},"y":{"field":"y","type":"quantitative","scale":{"domain":[0,1075],"nice":false,"zero":false,"reverse":true},"axis":null},"text":{"field":"txt"}}},
{"data":{"name":"bub"},"mark":{"type":"point","shape":"circle","filled":true,"opacity":1,"stroke":"black","strokeWidth":4},
"encoding":{"x":{"field":"x","type":"quantitative","scale":{"domain":[0,2081],"nice":false,"zero":false},"axis":null},"y":{"field":"y","type":"quantitative","scale":{"domain":[0,1075],"nice":false,"zero":false,"reverse":true},"axis":null},
"size":{"field":"n","type":"quantitative","scale":{"domain":[0,22],"range":[0,134000],"zero":true},"legend":null},
"color":{"field":"cluster","type":"nominal","scale":{"domain":["Cluster 1","Cluster 2","Cluster 3","Cluster 4","Cluster 5"],"range":["#6666ff","#66ccf4","#fff666","#ffb366","#ff6666"]},"legend":null}}},
{"data":{"name":"bub"},"mark":{"type":"text","font":"Liberation Serif","fontSize":78,"align":"center","baseline":"middle","color":"black"},
"encoding":{"x":{"field":"x","type":"quantitative","scale":{"domain":[0,2081],"nice":false,"zero":false},"axis":null},"y":{"field":"y","type":"quantitative","scale":{"domain":[0,1075],"nice":false,"zero":false,"reverse":true},"axis":null},"text":{"field":"n"}}},
{"data":{"name":"bub"},"mark":{"type":"text","font":"Liberation Serif","fontSize":50,"align":"center","baseline":"middle","color":"black"},
"encoding":{"x":{"field":"lx","type":"quantitative","scale":{"domain":[0,2081],"nice":false,"zero":false},"axis":null},"y":{"field":"ly","type":"quantitative","scale":{"domain":[0,1075],"nice":false,"zero":false,"reverse":true},"axis":null},"text":{"field":"cluster"}}},
{"data":{"name":"tab"},"mark":{"type":"rect","stroke":"black","strokeWidth":2},
"encoding":{"x":{"field":"c0","type":"quantitative","scale":{"domain":[-6.6,5],"nice":false,"zero":false},"axis":null},"x2":{"field":"c1"},
"y":{"field":"row","type":"nominal","scale":{"domain":["header","Cluster 1","Cluster 2","Cluster 3","Cluster 4","Cluster 5"],"paddingInner":0,"paddingOuter":0},"axis":null},
"fill":{"field":"row","type":"nominal","scale":{"domain":["header","Cluster 1","Cluster 2","Cluster 3","Cluster 4","Cluster 5"],"range":["#d9d9d9","#6666ff","#66ccf4","#fff666","#ffb366","#ff6666"]},"legend":null}}},
{"data":{"name":"tab"},"transform":[{"filter":"datum.c0 == 1"}],"mark":{"type":"rect","fillOpacity":0,"stroke":"black","strokeWidth":4},
"encoding":{"x":{"field":"c0","type":"quantitative","scale":{"domain":[-6.6,5],"nice":false,"zero":false},"axis":null},"x2":{"field":"c1"},
"y":{"field":"row","type":"nominal","scale":{"domain":["header","Cluster 1","Cluster 2","Cluster 3","Cluster 4","Cluster 5"],"paddingInner":0,"paddingOuter":0},"axis":null}}},
{"data":{"name":"tab"},"transform":[{"filter":"!(datum.row == 'header' && datum.c0 == 0)"}],"mark":{"type":"text","font":"Liberation Serif","fontSize":44,"color":"black","align":"center","baseline":"middle"},
"encoding":{"x":{"field":"xm","type":"quantitative","scale":{"domain":[-6.6,5],"nice":false,"zero":false},"axis":null},
"y":{"field":"row","type":"nominal","scale":{"domain":["header","Cluster 1","Cluster 2","Cluster 3","Cluster 4","Cluster 5"],"paddingInner":0,"paddingOuter":0},"axis":null},"text":{"field":"txt"}}},
{"data":{"name":"tab"},"transform":[{"filter":"datum.row == 'header' && datum.c0 == 0"}],"mark":{"type":"text","font":"Liberation Serif","fontSize":44,"color":"black","lineBreak":"\n","lineHeight":46,"align":"center","baseline":"middle","dy":-23},
"encoding":{"x":{"field":"xm","type":"quantitative","scale":{"domain":[-6.6,5],"nice":false,"zero":false},"axis":null},
"y":{"field":"row","type":"nominal","scale":{"domain":["header","Cluster 1","Cluster 2","Cluster 3","Cluster 4","Cluster 5"],"paddingInner":0,"paddingOuter":0},"axis":null},"text":{"field":"txt"}}}
]},
{"vconcat":[
{"width":2107,"height":602,
"layer":[
{"data":{"name":"mid"},"transform":[{"filter":"datum.agent == 'Agent 22'"}],"mark":{"type":"line","interpolate":"step-after","color":"#ff0000","strokeWidth":4},
"encoding":{"x":{"field":"t","type":"quantitative","title":"time","scale":{"domain":[0,380],"nice":false,"zero":false},
"axis":{"values":[0,38,76,114,152,190,228,266,304,342,380],"labelExpr":"datum.value == 0 ? '0' : (datum.value == 380 ? '380' : '')","labelFlush":false,"labelOverlap":false,"offset":38,"tickSize":25,"tickWidth":1.5,"domainWidth":1.5,"labelFont":"Liberation Serif","labelFontSize":44,"labelPadding":0,"titleFont":"Liberation Serif","titleFontSize":44,"titleFontWeight":"normal","titlePadding":-12}},
"y":{"field":"v","type":"quantitative","title":"belief ID","scale":{"domain":[0,32768],"nice":false,"zero":false},
"axis":{"values":[0,3276.8,6553.6,9830.4,13107.2,16384,19660.8,22937.6,26214.4,29491.2,32768],"labelExpr":"datum.value == 0 ? '0' : (datum.value == 32768 ? '32,768' : '')","labelOverlap":false,"labelFlush":false,"tickSize":25,"tickWidth":1.5,"domainWidth":1.5,"labelFont":"Liberation Serif","labelFontSize":44,"labelPadding":11,"titleFont":"Liberation Serif","titleFontSize":45,"titleFontWeight":"normal","titleX":-56,"titleY":301,"titleAngle":-90,"titleBaseline":"alphabetic","titleAlign":"center"}}}},
{"data":{"name":"mid"},"transform":[{"filter":"datum.agent == 'Agent 20'"}],"mark":{"type":"line","interpolate":"step-after","color":"black","strokeWidth":4},
"encoding":{"x":{"field":"t","type":"quantitative","title":"time","scale":{"domain":[0,380],"nice":false,"zero":false}},"y":{"field":"v","type":"quantitative","title":"belief ID","scale":{"domain":[0,32768],"nice":false,"zero":false}}}},
{"data":{"name":"midc"},"mark":{"type":"point","shape":"circle","filled":false,"color":"#ff0000","strokeWidth":1.5,"size":256,"opacity":1},
"encoding":{"x":{"field":"t","type":"quantitative","title":"time","scale":{"domain":[0,380],"nice":false,"zero":false}},"y":{"field":"v","type":"quantitative","title":"belief ID","scale":{"domain":[0,32768],"nice":false,"zero":false}}}},
{"data":{"name":"midd"},"mark":{"type":"point","shape":"circle","filled":true,"color":"black","size":300,"opacity":1},
"encoding":{"x":{"field":"t","type":"quantitative","title":"time","scale":{"domain":[0,380],"nice":false,"zero":false}},"y":{"field":"v","type":"quantitative","title":"belief ID","scale":{"domain":[0,32768],"nice":false,"zero":false}}}},
{"data":{"name":"midleg"},"mark":{"type":"text","font":"Liberation Serif","fontSize":46,"align":"left","baseline":"middle"},
"encoding":{"x":{"field":"t","type":"quantitative","title":"time","scale":{"domain":[0,380],"nice":false,"zero":false}},"y":{"field":"v","type":"quantitative","title":"belief ID","scale":{"domain":[0,32768],"nice":false,"zero":false}},"text":{"field":"agent"},
"color":{"field":"agent","type":"nominal","scale":{"domain":["Agent 20","Agent 22"],"range":["black","#ff0000"]},"legend":null}}},
{"data":{"name":"midlab"},"mark":{"type":"text","font":"Liberation Serif","fontSize":48,"align":"left","baseline":"middle"},
"encoding":{"x":{"field":"t","type":"quantitative","title":"time","scale":{"domain":[0,380],"nice":false,"zero":false}},"y":{"field":"v","type":"quantitative","title":"belief ID","scale":{"domain":[0,32768],"nice":false,"zero":false}},"text":{"field":"txt"},
"color":{"field":"agent","type":"nominal","scale":{"domain":["Agent 20","Agent 22"],"range":["black","#ff0000"]},"legend":null}}},
{"data":{"name":"midlead"},"mark":{"type":"rule"},
"encoding":{"x":{"field":"t","type":"quantitative","title":"time","scale":{"domain":[0,380],"nice":false,"zero":false}},"y":{"field":"v","type":"quantitative","title":"belief ID","scale":{"domain":[0,32768],"nice":false,"zero":false}},"x2":{"field":"t2"},"y2":{"field":"v2"},
"color":{"field":"agent","type":"nominal","scale":{"domain":["Agent 20","Agent 22"],"range":["black","#ff0000"]},"legend":null},
"strokeWidth":{"condition":{"test":"datum.agent == 'Agent 20'","value":4},"value":1.5}}}
]},
{"width":2107,"height":601,"data":{"name":"bot"},
"layer":[
{"transform":[{"filter":{"not":{"field":"a","oneOf":["a16","tg","mg","sal"]}}}],"mark":{"type":"line","strokeWidth":4},
"encoding":{"x":{"field":"t","type":"quantitative","title":"time","scale":{"domain":[0,380],"nice":false,"zero":false},
"axis":{"values":[0,38,76,114,152,190,228,266,304,342,380],"labelExpr":"datum.value == 0 ? '0' : (datum.value == 380 ? '380' : '')","labelFlush":false,"labelOverlap":false,"offset":40,"tickSize":25,"tickWidth":4,"domainWidth":4,"labelFont":"Liberation Serif","labelFontSize":44,"labelPadding":0,"titleFont":"Liberation Serif","titleFontSize":44,"titleFontWeight":"normal","titlePadding":-12}},
"y":{"field":"v","type":"quantitative","title":"belief ID","scale":{"domain":[0,32768],"nice":false,"zero":false},
"axis":{"values":[0,3276.8,6553.6,9830.4,13107.2,16384,19660.8,22937.6,26214.4,29491.2,32768],"labelExpr":"datum.value == 0 ? '0' : (datum.value == 32768 ? '32,768' : '')","labelOverlap":false,"labelFlush":false,"tickSize":25,"tickWidth":4,"domainWidth":4,"labelFont":"Liberation Serif","labelFontSize":44,"labelPadding":11,"titleFont":"Liberation Serif","titleFontSize":45,"titleFontWeight":"normal","titleX":-56,"titleY":300,"titleAngle":-90,"titleBaseline":"alphabetic","titleAlign":"center"}},
"color":{"field":"a","type":"nominal","legend":null,"scale":{"domain":["a01","a02","a03","a04","a05","a06","a07","a08","a09","a10","a11","a12","a13","a14","a15","b01","b03","b06","b08","b12","b14","b16","b17","b18","b19"],
"range":["#6a33a0","#b05a70","#7b2d72","#1ab5ad","#629a35","#8ec8fa","#20c080","#a8ff1c","#8ea38a","#8a2be2","#c41e3a","#c41e3a","#f2336b","#4a5285","#19f04a","#4ef0f0","#b8521a","#c07cc8","#1db81d","#a8a0d8","#800080","#6a2ab8","#7a3050","#f0d8c0","#e0600e"]}}}},
{"transform":[{"filter":"datum.a == 'a16'"}],"mark":{"type":"line","strokeWidth":4,"color":"#33dcf0"},
"encoding":{"x":{"field":"t","type":"quantitative","title":"time","scale":{"domain":[0,380],"nice":false,"zero":false}},"y":{"field":"v","type":"quantitative","title":"belief ID","scale":{"domain":[0,32768],"nice":false,"zero":false}}}},
{"transform":[{"filter":"datum.a == 'tg'"}],"mark":{"type":"line","strokeWidth":4,"color":"#1f9a73"},
"encoding":{"x":{"field":"t","type":"quantitative","title":"time","scale":{"domain":[0,380],"nice":false,"zero":false}},"y":{"field":"v","type":"quantitative","title":"belief ID","scale":{"domain":[0,32768],"nice":false,"zero":false}}}},
{"transform":[{"filter":"datum.a == 'mg'"}],"mark":{"type":"line","strokeWidth":4,"color":"#a8408f"},
"encoding":{"x":{"field":"t","type":"quantitative","title":"time","scale":{"domain":[0,380],"nice":false,"zero":false}},"y":{"field":"v","type":"quantitative","title":"belief ID","scale":{"domain":[0,32768],"nice":false,"zero":false}}}},
{"transform":[{"filter":"datum.a == 'sal'"}],"mark":{"type":"line","strokeWidth":5,"color":"#d98c8c"},
"encoding":{"x":{"field":"t","type":"quantitative","title":"time","scale":{"domain":[0,380],"nice":false,"zero":false}},"y":{"field":"v","type":"quantitative","title":"belief ID","scale":{"domain":[0,32768],"nice":false,"zero":false}}}},
{"data":{"name":"botlead"},"mark":{"type":"rule","color":"black","strokeWidth":3.5},
"encoding":{"x":{"field":"t","type":"quantitative","title":"time","scale":{"domain":[0,380],"nice":false,"zero":false}},"y":{"field":"v","type":"quantitative","title":"belief ID","scale":{"domain":[0,32768],"nice":false,"zero":false}},"x2":{"field":"t2"},"y2":{"field":"v2"}}},
{"data":{"name":"botlab"},"mark":{"type":"text","font":"Liberation Sans Narrow, Liberation Sans, sans-serif","fontSize":34,"align":"left","baseline":"middle","color":"black"},
"encoding":{"x":{"field":"t","type":"quantitative","title":"time","scale":{"domain":[0,380],"nice":false,"zero":false}},"y":{"field":"v","type":"quantitative","title":"belief ID","scale":{"domain":[0,32768],"nice":false,"zero":false}},"text":{"field":"txt"}}}
]}
],"spacing":311,"bounds":"flush","resolve":{"scale":{"color":"independent"}}}
]
}
